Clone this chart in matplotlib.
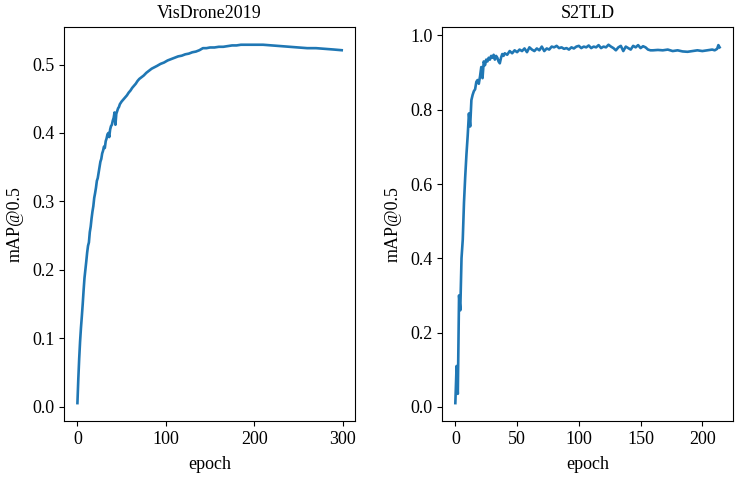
import matplotlib.pyplot as plt

plt.rcParams['font.family'] = ['Liberation Serif', 'DejaVu Serif']

# VisDrone2019 mAP@0.5 per epoch
vis_epoch = [0, 1, 2, 3, 4, 5, 6, 7, 8, 9, 10, 11, 12, 13, 14, 15, 16, 17, 18, 19,
             20, 21, 22, 23, 24, 25, 26, 27, 28, 29, 30, 31, 32, 33, 34, 35, 36, 37, 38, 39,
             40, 41, 42, 43, 44, 45, 46, 47, 48, 50, 52, 54, 56, 58, 60, 62, 64, 66, 68, 70,
             72, 75, 78, 81, 84, 87, 90, 94, 98, 102, 106, 110, 114, 118, 122, 126, 130, 134,
             138, 142, 146, 150, 155, 160, 165, 170, 175, 180, 185, 190, 200, 210, 220, 230,
             240, 250, 260, 270, 280, 290, 299]
vis_map = [0.005, 0.04, 0.07, 0.095, 0.115, 0.132, 0.15, 0.17, 0.188, 0.2, 0.212, 0.225,
           0.235, 0.24, 0.255, 0.263, 0.275, 0.285, 0.293, 0.305, 0.312, 0.32, 0.33, 0.334,
           0.342, 0.35, 0.358, 0.362, 0.37, 0.374, 0.38, 0.378, 0.388, 0.392, 0.398, 0.40,
           0.394, 0.405, 0.41, 0.412, 0.418, 0.422, 0.43, 0.412, 0.428, 0.432, 0.436, 0.438,
           0.442, 0.446, 0.449, 0.452, 0.455, 0.459, 0.462, 0.466, 0.469, 0.472, 0.476, 0.479,
           0.481, 0.484, 0.488, 0.491, 0.494, 0.496, 0.498, 0.501, 0.503, 0.506, 0.508, 0.510,
           0.512, 0.513, 0.515, 0.516, 0.518, 0.519, 0.521, 0.524, 0.524, 0.525, 0.525, 0.526,
           0.526, 0.527, 0.528, 0.528, 0.529, 0.529, 0.529, 0.529, 0.528, 0.527, 0.526, 0.525,
           0.524, 0.524, 0.523, 0.522, 0.521]

# S2TLD mAP@0.5 per epoch
s2_epoch = list(range(0, 41)) + list(range(42, 160, 2)) + [160, 164, 168, 172, 176, 180, 184,
                                                          188, 192, 196, 200, 204, 208, 210,
                                                          212, 213, 214]
s2_map = [0.01, 0.11, 0.035, 0.30, 0.26, 0.40, 0.45, 0.55, 0.62, 0.68, 0.73, 0.79, 0.755,
          0.826, 0.84, 0.85, 0.855, 0.875, 0.88, 0.87, 0.89, 0.915, 0.885, 0.93, 0.92, 0.935,
          0.93, 0.94, 0.935, 0.945, 0.94, 0.948, 0.935, 0.945, 0.94, 0.93, 0.925, 0.94, 0.95,
          0.945, 0.952,
          0.948, 0.958, 0.952, 0.96, 0.955, 0.962, 0.958, 0.965, 0.955, 0.968, 0.962, 0.958,
          0.965, 0.96, 0.97, 0.958, 0.965, 0.962, 0.97, 0.968, 0.972, 0.966, 0.968, 0.964,
          0.966, 0.962, 0.968, 0.965, 0.97, 0.972, 0.966, 0.97, 0.968, 0.973, 0.966, 0.97,
          0.968, 0.974, 0.966, 0.97, 0.968, 0.975, 0.97, 0.966, 0.96, 0.968, 0.972, 0.958,
          0.97, 0.966, 0.962, 0.972, 0.968, 0.974, 0.966, 0.971, 0.968, 0.962, 0.96,
          0.96, 0.961, 0.96, 0.962, 0.958, 0.96, 0.957, 0.956, 0.958, 0.96, 0.958, 0.96,
          0.962, 0.96, 0.964, 0.974, 0.968]

fig, (ax1, ax2) = plt.subplots(1, 2, figsize=(7.38, 4.79), dpi=100)
fig.subplots_adjust(left=0.087, right=0.993, bottom=0.121, top=0.944, wspace=0.3)

panels = [(ax1, vis_epoch, vis_map, 'VisDrone2019'),
          (ax2, s2_epoch, s2_map, 'S2TLD')]
for ax, x, y, name in panels:
    ax.plot(x, y, color='#1f77b4', lw=1.9)
    ax.set_title(name, fontsize=13)
    ax.set_xlabel('epoch', fontsize=13, labelpad=6)
    ax.set_ylabel('mAP@0.5', fontsize=13, labelpad=6)
    ax.tick_params(labelsize=13)

fig.savefig('out.png')
